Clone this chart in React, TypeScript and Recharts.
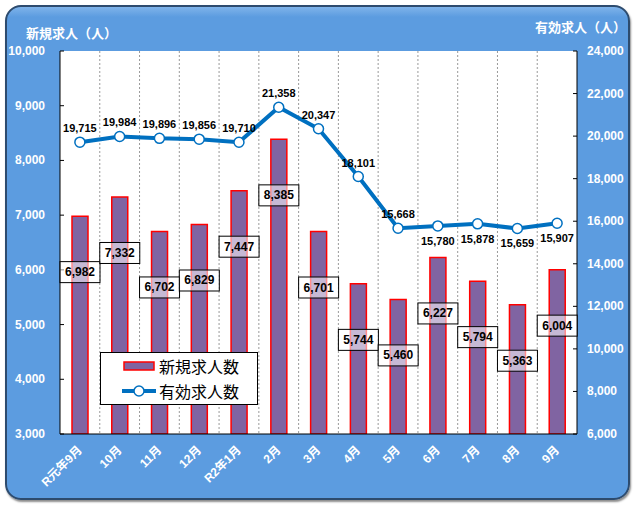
import {
  ComposedChart,
  Bar,
  Line,
  XAxis,
  YAxis,
  CartesianGrid,
  Legend,
  LabelList,
} from 'recharts';

const months = ['R元年9月', '10月', '11月', '12月', 'R2年1月', '2月', '3月', '4月', '5月', '6月', '7月', '8月', '9月'];
const newOpenings = [6982, 7332, 6702, 6829, 7447, 8385, 6701, 5744, 5460, 6227, 5794, 5363, 6004];
const activeOpenings = [19715, 19984, 19896, 19856, 19710, 21358, 20347, 18101, 15668, 15780, 15878, 15659, 15907];
const leftTicks = [3000, 4000, 5000, 6000, 7000, 8000, 9000, 10000];
const rightTicks = [6000, 8000, 10000, 12000, 14000, 16000, 18000, 20000, 22000, 24000];

const data = months.map((month, i) => ({
  month,
  newOpenings: newOpenings[i],
  activeOpenings: activeOpenings[i],
}));

const FONT = "'Liberation Sans', 'Noto Sans CJK JP', sans-serif";
const CJK = "'Noto Sans CJK JP', sans-serif";
const BG = '#5C9CE0';
const fmt = (v: number) => Number(v).toLocaleString('en-US');

const LeftTick = ({ x, y, payload }: any) => (
  <g>
    <text x={x} y={y} textAnchor="end" dominantBaseline="central" fill="#fff" fontSize={12} fontWeight="bold" fontFamily={FONT}>
      {fmt(payload.value)}
    </text>
    <line x1={x + 15} x2={x + 19} y1={y} y2={y} stroke="#000" />
  </g>
);

const RightTick = ({ x, y, payload }: any) => (
  <g>
    <text x={x} y={y} textAnchor="start" dominantBaseline="central" fill="#fff" fontSize={12} fontWeight="bold" fontFamily={FONT}>
      {fmt(payload.value)}
    </text>
    <line x1={x - 14} x2={x - 10} y1={y} y2={y} stroke="#000" />
  </g>
);

const MonthTick = ({ x, y, payload }: any) => (
  <text
    x={x}
    y={y}
    transform={`rotate(-45 ${x} ${y})`}
    textAnchor="end"
    dominantBaseline="central"
    fill="#fff"
    fontSize={12}
    fontWeight="bold"
    fontFamily={FONT}
  >
    {payload.value}
  </text>
);

const BarValueLabel = ({ x, y, width, value }: any) => {
  const cx = x + width / 2;
  const cy = y + 56;
  return (
    <g>
      <rect x={cx - 20} y={cy - 10.5} width={40} height={21} fill="#fff" fillOpacity={0.55} stroke="#000" strokeWidth={1} />
      <text x={cx} y={cy} textAnchor="middle" dominantBaseline="central" fontSize={12} fontWeight="bold" fontFamily={FONT} fill="#000">
        {fmt(value)}
      </text>
    </g>
  );
};

const LineValueLabel = ({ x, y, value, index }: any) => {
  const below = index >= 9;
  return (
    <text
      x={x}
      y={below ? y + 15 : y - 14}
      textAnchor="middle"
      dominantBaseline="central"
      fontSize={11}
      fontWeight="bold"
      fontFamily={FONT}
      fill="#000"
    >
      {fmt(value)}
    </text>
  );
};

const LegendBox = ({ payload }: any) => (
  <div
    style={{
      width: 156,
      height: 51,
      border: '1px solid #000',
      background: '#fff',
      fontFamily: CJK,
      fontSize: 16,
      color: '#000',
      boxSizing: 'content-box',
    }}
  >
    {(payload || []).map((entry: any) => (
      <div key={entry.value} style={{ display: 'flex', alignItems: 'center', height: 25, paddingLeft: 20 }}>
        <svg width={36} height={14} style={{ marginRight: 2 }}>
          {entry.type === 'rect' ? (
            <rect x={3} y={3} width={30} height={8} fill="#8064A2" stroke="#FF0000" strokeWidth={1.5} />
          ) : (
            <g>
              <line x1={1} x2={35} y1={7} y2={7} stroke="#0070C0" strokeWidth={4} />
              <circle cx={18} cy={7} r={5} fill="#fff" stroke="#0070C0" strokeWidth={1.5} />
            </g>
          )}
        </svg>
        <span style={{ lineHeight: '16px' }}>{entry.value}</span>
      </div>
    ))}
  </div>
);

export default function App() {
  return (
    <div style={{ position: 'absolute', left: 0, top: 0, width: 633, height: 505, background: '#fff' }}>
      <div
        style={{
          position: 'absolute',
          left: 5,
          top: 5,
          width: 621,
          height: 491,
          border: '2px solid #2d4b6e',
          borderRadius: 16,
          background: `linear-gradient(to bottom, #7fb3ea 0px, ${BG} 10px, ${BG} 100%)`,
          boxShadow: '1px 2px 2px rgba(0,0,0,0.45)',
        }}
      />
      <div
        style={{
          position: 'absolute',
          left: 26,
          top: 25,
          color: '#fff',
          fontFamily: CJK,
          fontWeight: 'bold',
          fontSize: 13,
          lineHeight: '16px',
        }}
      >
        新規求人（人）
      </div>
      <div
        style={{
          position: 'absolute',
          left: 535,
          top: 19,
          color: '#fff',
          fontFamily: CJK,
          fontWeight: 'bold',
          fontSize: 13,
          lineHeight: '16px',
        }}
      >
        有効求人（人）
      </div>
      <div style={{ position: 'absolute', left: 0, top: 0 }}>
        <ComposedChart width={633} height={505} data={data} margin={{ top: 51, right: 0, bottom: 0, left: 0 }}>
          <CartesianGrid
            horizontal={false}
            fill="#fff"
            fillOpacity={1}
            stroke="#999"
            strokeDasharray="2 2"
            verticalCoordinatesGenerator={({ offset }: any) =>
              months.slice(1).map((_, i) => offset.left + (offset.width * (i + 1)) / months.length)
            }
          />
          <XAxis
            dataKey="month"
            height={71}
            tick={<MonthTick />}
            tickLine={false}
            tickSize={0}
            tickMargin={14}
            interval={0}
            axisLine={{ stroke: '#000' }}
          />
          <YAxis
            yAxisId="left"
            width={60}
            domain={[3000, 10000]}
            ticks={leftTicks}
            tick={<LeftTick />}
            tickLine={false}
            tickSize={0}
            tickMargin={15}
            axisLine={{ stroke: '#000' }}
            allowDataOverflow
          />
          <YAxis
            yAxisId="right"
            orientation="right"
            width={56}
            domain={[6000, 24000]}
            ticks={rightTicks}
            tick={<RightTick />}
            tickLine={false}
            tickSize={0}
            tickMargin={10}
            axisLine={{ stroke: '#000' }}
            allowDataOverflow
          />
          <Legend
            layout="vertical"
            verticalAlign="middle"
            align="center"
            content={<LegendBox />}
            wrapperStyle={{ position: 'absolute', left: 100, top: 352, width: 'auto' }}
          />
          <Bar
            yAxisId="left"
            dataKey="newOpenings"
            name="新規求人数"
            barSize={16}
            fill="#8064A2"
            stroke="#FF0000"
            strokeWidth={1.5}
            isAnimationActive={false}
          >
            <LabelList dataKey="newOpenings" content={<BarValueLabel />} />
          </Bar>
          <Line
            yAxisId="right"
            dataKey="activeOpenings"
            name="有効求人数"
            stroke="#0070C0"
            strokeWidth={4}
            dot={{ r: 5, fill: '#fff', stroke: '#0070C0', strokeWidth: 1.5 }}
            isAnimationActive={false}
          >
            <LabelList dataKey="activeOpenings" content={<LineValueLabel />} />
          </Line>
        </ComposedChart>
      </div>
    </div>
  );
}
